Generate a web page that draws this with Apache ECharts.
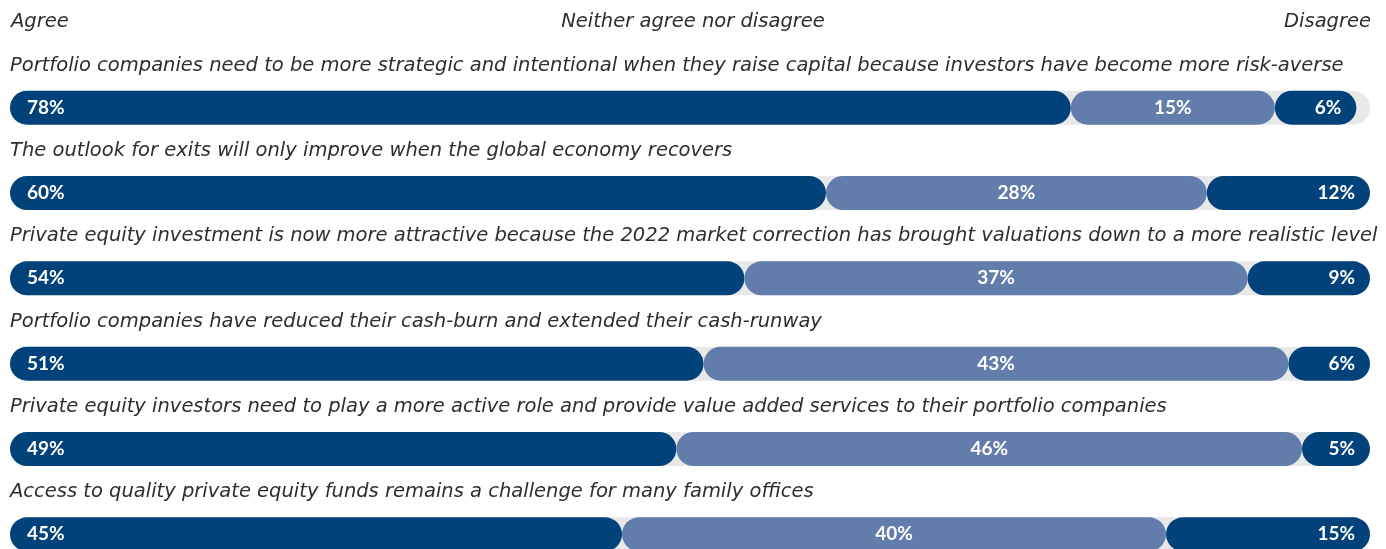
<!DOCTYPE html>
<html>
<head>
<meta charset="utf-8">
<script src="https://cdn.jsdelivr.net/npm/echarts@6/dist/echarts.min.js"></script>
<style>
  html, body { margin: 0; padding: 0; background: #fff; }
  #main { width: 1386px; height: 549px; }
</style>
</head>
<body>
<div id="main"></div>
<script>
// 家族办公室态度调查 - 同意 / 中立 / 不同意
var statements = [
    'Portfolio companies need to be more strategic and intentional when they raise capital because investors have become more risk-averse',
    'The outlook for exits will only improve when the global economy recovers',
    'Private equity investment is now more attractive because the 2022 market correction has brought valuations down to a more realistic level',
    'Portfolio companies have reduced their cash-burn and extended their cash-runway',
    'Private equity investors need to play a more active role and provide value added services to their portfolio companies',
    'Access to quality private equity funds remains a challenge for many family offices'
];
var agree    = [78, 60, 54, 51, 49, 45];
var neutral  = [15, 28, 37, 43, 46, 40];
var disagree = [6, 12, 9, 6, 5, 15];
var headers  = ['Agree', 'Neither agree nor disagree', 'Disagree'];

var DARK = '#02427a';
var LIGHT = '#627dab';
var TEXT_FONT = 'DejaVu Sans';
var NUM_FONT = 'Lato';

function pctLabel(pos, dist){
    return {
        show: true,
        position: pos,
        distance: dist,
        color: '#fff',
        fontFamily: NUM_FONT,
        fontWeight: 'bold',
        fontSize: 19,
        formatter: '{c}%'
    };
}

function surveyChart(){
    var headStyle = {color: '#2e2e2e', fontFamily: TEXT_FONT, fontStyle: 'italic', fontWeight: 'normal', fontSize: 19.5};
    var option = {
        backgroundColor: '#fff',
        animation: false,
        title: [
            {text: headers[0], left: 6, top: 7, textStyle: headStyle},
            {text: headers[1], left: 'center', top: 7, textStyle: headStyle},
            {text: headers[2], right: 10, top: 7, textStyle: headStyle}
        ],
        grid: {
            left: 10,
            right: 16,
            top: 65,
            height: 512,
            outerBoundsMode: 'none'
        },
        xAxis: {
            type: 'value',
            min: 0,
            max: 100,
            show: false
        },
        yAxis: {
            type: 'category',
            inverse: true,
            data: statements,
            axisLine: {show: false},
            axisTick: {show: false},
            axisLabel: {
                inside: true,
                margin: 0,
                align: 'left',
                verticalAlign: 'bottom',
                padding: [0, 0, 32, 0],
                color: '#2e2e2e',
                fontFamily: TEXT_FONT,
                fontStyle: 'italic',
                fontSize: 19.5
            },
            z: 10
        },
        series: [
            {
                name: 'Agree',
                type: 'bar',
                stack: 'all',
                barWidth: 34,
                data: agree,
                showBackground: true,
                backgroundStyle: {color: '#e8e8e8', borderRadius: 17},
                itemStyle: {color: DARK, borderRadius: 17},
                label: pctLabel('insideLeft', 17)
            },
            {
                name: 'Neither',
                type: 'bar',
                stack: 'all',
                barWidth: 34,
                data: neutral,
                itemStyle: {color: LIGHT, borderRadius: 17},
                label: pctLabel('inside', 0)
            },
            {
                name: 'Disagree',
                type: 'bar',
                stack: 'all',
                barWidth: 34,
                data: disagree,
                itemStyle: {color: DARK, borderRadius: 17},
                label: pctLabel('insideRight', 15)
            }
        ]
    };
    var myChart = echarts.init(document.getElementById('main'));
    myChart.setOption(option);
}

surveyChart();
</script>
</body>
</html>
